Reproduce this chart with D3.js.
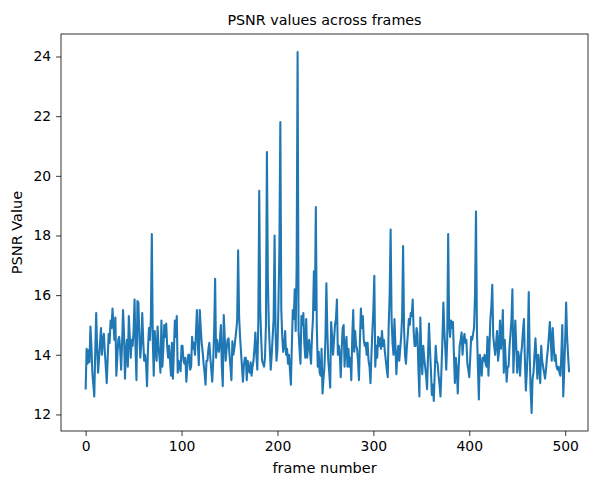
<!DOCTYPE html>
<html>
<head>
<meta charset="utf-8">
<script src="https://cdn.jsdelivr.net/npm/d3@7"></script>
<style>
  html, body { margin: 0; padding: 0; background: #fff; }
  svg { display: block; font-family: "DejaVu Sans", sans-serif; }
  .tick text { font-size: 13.9px; fill: #000; }
  .tick line { stroke: #000; stroke-width: 0.8; }
</style>
</head>
<body>
<div id="chart"></div>
<script>
// PSNR per frame
const psnr = [
  12.87, 14.2, 13.7, 14.15, 13.75, 14.95, 14.3, 13.4, 13.0, 12.6,
  14.1, 15.4, 14.2, 13.4, 13.9, 14.4, 14.9, 14.0, 14.5, 14.7,
  14.1, 13.6, 13.05, 13.9, 14.7, 14.4, 15.15, 14.9, 15.55, 15.0,
  14.5, 15.25, 13.3, 13.9, 14.5, 14.6, 14.2, 13.5, 14.4, 15.5,
  14.7, 13.2, 14.1, 14.5, 13.6, 15.3, 14.6, 13.9, 14.5, 14.3,
  14.8, 15.85, 14.2, 13.15, 15.8, 15.75, 14.6, 13.9, 14.4, 15.4,
  14.5, 13.8, 14.0, 13.7, 12.95, 14.2, 14.9, 14.5, 15.2, 18.05,
  14.5, 13.3, 14.8, 14.2, 13.8, 14.95, 14.3, 13.9, 13.4, 15.15,
  13.6, 14.2, 15.0, 14.6, 15.05, 14.3, 13.9, 14.3, 13.8, 13.3,
  14.4, 13.2, 14.1, 15.15, 14.6, 15.3, 13.4, 13.8, 13.6, 13.45,
  14.3, 14.3, 13.8, 13.7, 13.9, 13.1, 13.6, 14.0, 14.0, 13.5,
  13.6, 14.6, 14.2, 14.4, 14.0, 14.7, 15.5, 14.4, 13.65, 15.5,
  14.9, 14.4, 14.1, 13.7, 13.4, 13.0, 13.8, 13.8, 14.2, 14.4,
  13.9, 13.5, 13.1, 13.8, 14.8, 16.55, 13.9, 14.5, 14.2, 14.1,
  14.5, 15.0, 13.6, 12.95, 15.33, 14.6, 13.8, 14.2, 14.5, 14.55,
  14.0, 13.6, 13.15, 14.45, 14.0, 14.2, 14.5, 14.8, 15.15, 17.5,
  15.3, 14.6, 14.1, 13.6, 13.1, 13.65, 13.9, 13.9, 13.15, 13.8,
  13.5, 13.4, 13.75, 13.3, 13.6, 13.8, 14.2, 14.75, 14.0, 13.5,
  15.0, 19.5, 15.5, 14.6, 13.8, 13.7, 13.6, 13.9, 15.0, 20.8,
  16.5, 15.0, 14.2, 13.5, 14.0, 14.6, 15.2, 18.0, 14.8, 13.8,
  14.2, 15.6, 17.5, 21.8, 15.5, 14.6, 14.1, 14.3, 14.8, 14.0,
  14.2, 13.7, 14.0, 13.5, 13.0, 14.3, 15.5, 15.2, 16.2, 14.8,
  17.0, 24.15, 14.8, 14.2, 13.7, 15.3, 15.0, 15.4, 14.4, 13.9,
  15.2, 13.9, 14.3, 14.5, 14.1, 13.7, 14.6, 15.2, 16.8, 15.5,
  18.95, 15.0, 13.6, 14.1, 13.4, 13.3, 14.2, 12.7, 13.2, 13.6,
  14.5, 16.4, 14.8, 13.8, 13.4, 12.9, 15.1, 14.6, 14.0, 14.5,
  15.0, 15.2, 15.85, 14.0, 14.3, 14.0, 13.25, 14.2, 14.9, 15.0,
  13.6, 14.3, 14.6, 13.6, 14.2, 13.6, 13.9, 13.15, 14.6, 15.5,
  14.1, 14.8, 14.3, 14.2, 13.8, 13.15, 14.5, 15.55, 14.9, 15.3,
  14.5, 14.3, 14.4, 14.0, 14.4, 13.8, 13.6, 13.05, 14.0, 14.8,
  15.5, 16.65, 13.6, 14.3, 13.9, 14.6, 14.3, 14.55, 14.2, 14.8,
  14.3, 14.5, 14.1, 13.8, 13.5, 13.25, 15.0, 16.0, 18.2, 15.2,
  14.4, 14.0, 15.2, 14.3, 13.35, 14.0, 14.3, 13.8, 14.2, 14.6,
  15.3, 17.65, 14.9, 14.0, 13.7, 14.3, 14.7, 15.2, 15.0, 15.4,
  15.3, 15.85, 14.8, 14.3, 14.3, 14.9, 14.7, 13.5, 12.6, 15.25,
  14.0, 13.35, 14.3, 13.9, 13.6, 13.3, 12.85, 14.0, 15.05, 14.2,
  13.5, 12.65, 13.0, 12.45, 13.4, 14.3, 13.8, 13.7, 13.3, 13.0,
  12.6, 13.5, 14.5, 15.75, 14.8, 14.2, 13.5, 14.5, 18.05, 15.0,
  14.6, 15.15, 14.9, 15.1, 14.0, 13.05, 13.9, 13.5, 12.7, 13.6,
  14.3, 14.5, 14.75, 14.0, 14.5, 14.7, 14.4, 14.5, 13.7, 13.5,
  13.25, 13.9, 14.6, 14.5, 14.7, 14.9, 16.0, 18.8, 14.8, 13.6,
  12.5, 14.0, 13.7, 13.3, 13.9, 13.8, 14.0, 13.7, 13.6, 14.6,
  13.3, 14.2, 15.2, 15.6, 16.35, 14.6, 14.3, 14.0, 14.4, 14.8,
  13.8, 14.1, 15.15, 14.2, 14.6, 15.5, 13.4, 14.5, 13.8, 13.1,
  13.6, 13.6, 14.3, 14.7, 15.2, 16.2, 13.4, 14.3, 15.15, 14.3,
  13.4, 14.1, 13.9, 13.3, 14.0, 14.3, 14.8, 15.2, 13.8, 12.8,
  13.4, 14.3, 16.1, 14.0, 12.8, 12.05, 13.2, 13.4, 14.0, 14.55,
  13.9, 13.2, 14.0, 13.6, 13.05, 14.3, 13.8, 13.6, 13.4, 13.2,
  13.5, 13.9, 14.2, 14.6, 15.1, 14.5, 13.8, 14.9, 14.3, 13.8,
  14.0, 13.6, 13.5, 13.6, 13.4, 13.3, 14.0, 15.0, 12.6, 13.5,
  14.5, 15.75, 14.6, 14.0, 13.45
];
const frames = psnr.map((v, i) => i);

const xTicks = [0, 100, 200, 300, 400, 500];
const yTicks = [12, 14, 16, 18, 20, 22, 24];

const title = 'PSNR values across frames';
const xLabel = 'frame number';
const yLabel = 'PSNR Value';

const width = 589, height = 479;
const margin = { top: 34, right: 1, bottom: 48, left: 61 };
const innerW = width - margin.left - margin.right;
const innerH = height - margin.top - margin.bottom;

const svg = d3.select('#chart')
  .append('svg')
  .attr('width', width)
  .attr('height', height);

const g = svg.append('g')
  .attr('transform', `translate(${margin.left},${margin.top})`);

// x: tick 0 at ~85.7px, tick 500 at ~565.3px
const x = d3.scaleLinear()
  .domain([-25.7, 523.8])
  .range([0, innerW]);

// y: padded like matplotlib's autoscale margins
const yMin = d3.min(psnr), yMax = d3.max(psnr);
const yPad = (yMax - yMin) * 0.05;
const y = d3.scaleLinear()
  .domain([yMin - yPad, yMax + yPad])
  .range([innerH, 0]);

const line = d3.line()
  .x((d, i) => x(frames[i]))
  .y(d => y(d));

g.append('path')
  .datum(psnr)
  .attr('fill', 'none')
  .attr('stroke', '#1f77b4')
  .attr('stroke-width', 2.08)
  .attr('stroke-linejoin', 'round')
  .attr('stroke-linecap', 'square')
  .attr('d', line);

// Axes
const xAxis = g.append('g')
  .attr('transform', `translate(0,${innerH})`)
  .call(d3.axisBottom(x).tickValues(xTicks).tickSize(4.9).tickPadding(4.9).tickFormat(d3.format('d')));
const yAxis = g.append('g')
  .call(d3.axisLeft(y).tickValues(yTicks).tickSize(4.9).tickPadding(4.9).tickFormat(d3.format('d')));
[xAxis, yAxis].forEach(a => {
  a.select('.domain').remove();
  a.attr('font-family', null).attr('font-size', null);
});

// Frame
g.append('rect')
  .attr('width', innerW)
  .attr('height', innerH)
  .attr('fill', 'none')
  .attr('stroke', '#000')
  .attr('stroke-width', 0.8);

// Labels
svg.append('text')
  .attr('x', margin.left + innerW / 2)
  .attr('y', margin.top - 9)
  .attr('text-anchor', 'middle')
  .attr('font-size', 14.3)
  .text(title);

svg.append('text')
  .attr('x', margin.left + innerW / 2)
  .attr('y', 473)
  .attr('text-anchor', 'middle')
  .attr('font-size', 14.5)
  .text(xLabel);

svg.append('text')
  .attr('transform', `translate(22,${margin.top + innerH / 2}) rotate(-90)`)
  .attr('text-anchor', 'middle')
  .attr('font-size', 14.5)
  .text(yLabel);
</script>
</body>
</html>
